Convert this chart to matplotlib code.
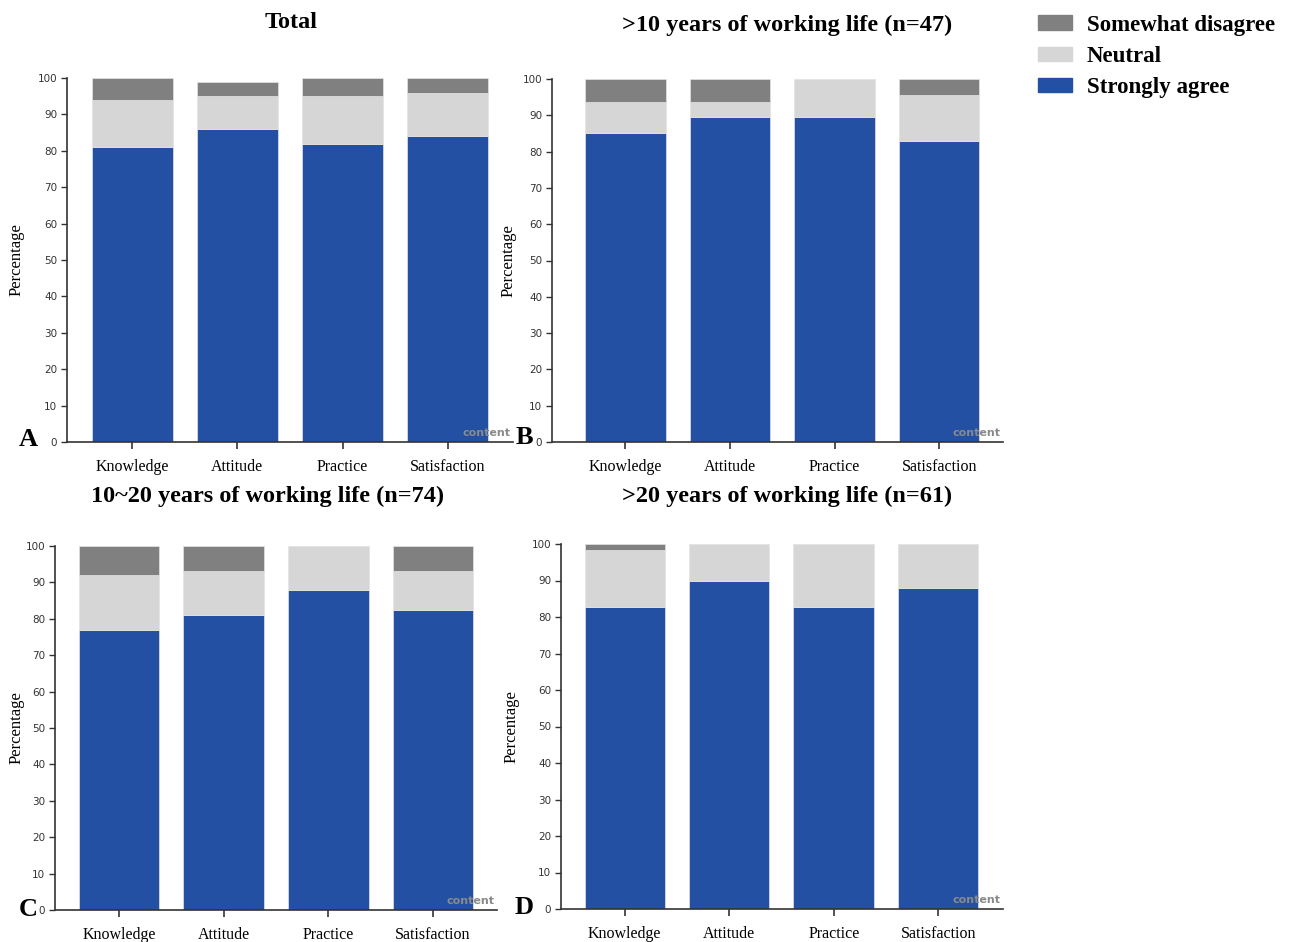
import numpy as np
import matplotlib
matplotlib.use('Agg')
import matplotlib.pyplot as plt
from matplotlib.patches import Patch

categories = ['Knowledge', 'Attitude', 'Practice', 'Satisfaction']
series_names = ['Strongly agree', 'Neutral', 'Somewhat disagree']
colors = ['#2350a3', '#d6d6d6', '#808080']

# percentages per panel (strongly agree, neutral, somewhat disagree)
total_agree = [81.0, 86.0, 82.0, 84.0]
total_neutral = [13.0, 9.0, 13.0, 12.0]
total_disagree = [6.0, 4.0, 5.0, 4.0]

lt10_agree = [85.1, 89.4, 89.4, 83.0]
lt10_neutral = [8.5, 4.2, 10.6, 12.7]
lt10_disagree = [6.4, 6.4, 0.0, 4.3]

mid_agree = [77.0, 81.1, 87.8, 82.4]
mid_neutral = [14.9, 12.1, 12.2, 10.8]
mid_disagree = [8.1, 6.8, 0.0, 6.8]

gt20_agree = [82.8, 89.8, 82.8, 88.0]
gt20_neutral = [15.6, 10.2, 17.2, 12.0]
gt20_disagree = [1.6, 0.0, 0.0, 0.0]

panel_titles = ['Total', '>10 years of working life (n=47)',
                '10~20 years of working life (n=74)', '>20 years of working life (n=61)']
panel_letters = ['A', 'B', 'C', 'D']

W, H = 1300, 942
fig = plt.figure(figsize=(W / 100, H / 100), dpi=100)

def px_axes(x0, y_top, x1, y_bot):
    return fig.add_axes([x0 / W, 1 - y_bot / H, (x1 - x0) / W, (y_bot - y_top) / H])

# axes boxes in pixels: left, top(100), right, bottom(0)
boxes = [(67, 78, 513, 442), (552, 79, 1003, 442), (55, 546, 497, 910), (561, 544, 1003, 909)]
xlims = [(-0.62, 3.62), (-0.70, 3.61), (-0.61, 3.61), (-0.61, 3.62)]
ylabel_x = [25, 517, 25, 520]  # right edge of the rotated label
data = [(total_agree, total_neutral, total_disagree),
        (lt10_agree, lt10_neutral, lt10_disagree),
        (mid_agree, mid_neutral, mid_disagree),
        (gt20_agree, gt20_neutral, gt20_disagree)]
title_pos = [(291, 23), (787, 25), (268, 496), (787, 496)]
letter_pos = [(28, 439), (524, 437), (28, 909), (524, 908)]

serif = 'Liberation Serif'
x = np.arange(len(categories))
for i, (box, vals) in enumerate(zip(boxes, data)):
    ax = px_axes(*box)
    bottom = np.zeros(len(categories))
    for v, c in zip(vals, colors):
        v = np.array(v)
        ax.bar(x, v, width=0.77, bottom=bottom, color=c, edgecolor='#e4e4e4', linewidth=0.5)
        bottom += v
    ax.set_xlim(*xlims[i])
    ax.set_ylim(0, 100)
    ax.set_yticks(range(0, 101, 10))
    ax.set_xticks(x)
    ax.set_xticklabels(categories, fontsize=11.5, family=serif)
    ax.tick_params(axis='y', labelsize=7.5, length=4, width=1, colors='#333333', pad=3)
    ax.tick_params(axis='x', length=5, width=1.2, colors='#333333', pad=7)
    for lab in ax.get_xticklabels():
        lab.set_color('black')
    for s in ['top', 'right']:
        ax.spines[s].set_visible(False)
    for s in ['left', 'bottom']:
        ax.spines[s].set_color('#333333')
        ax.spines[s].set_linewidth(1.2)
    ax.set_ylabel('Percentage', fontsize=12, family=serif)
    ax.yaxis.set_label_coords((ylabel_x[i] - box[0]) / (box[2] - box[0]), 0.5)
    ax.text(0.995, 0.01, 'content', transform=ax.transAxes, ha='right', va='bottom',
            fontsize=8, color='#8a8a8a', fontweight='bold')
    fig.text(title_pos[i][0] / W, 1 - title_pos[i][1] / H, panel_titles[i], ha='center', va='center',
             fontsize=17.5, fontweight='bold', family=serif)
    fig.text(letter_pos[i][0] / W, 1 - letter_pos[i][1] / H, panel_letters[i], ha='center', va='center',
             fontsize=19, fontweight='bold', family=serif)

handles = [Patch(color=colors[i], label=series_names[i]) for i in [2, 1, 0]]
fig.legend(handles=handles, loc='upper left', bbox_to_anchor=(1017 / W, 1 + 6 / H),
           frameon=False, prop={'family': serif, 'weight': 'bold', 'size': 16.5},
           handlelength=1.5, handleheight=0.6, labelspacing=0.45, handletextpad=0.65)

fig.savefig('out.png', dpi=100, facecolor='white')
